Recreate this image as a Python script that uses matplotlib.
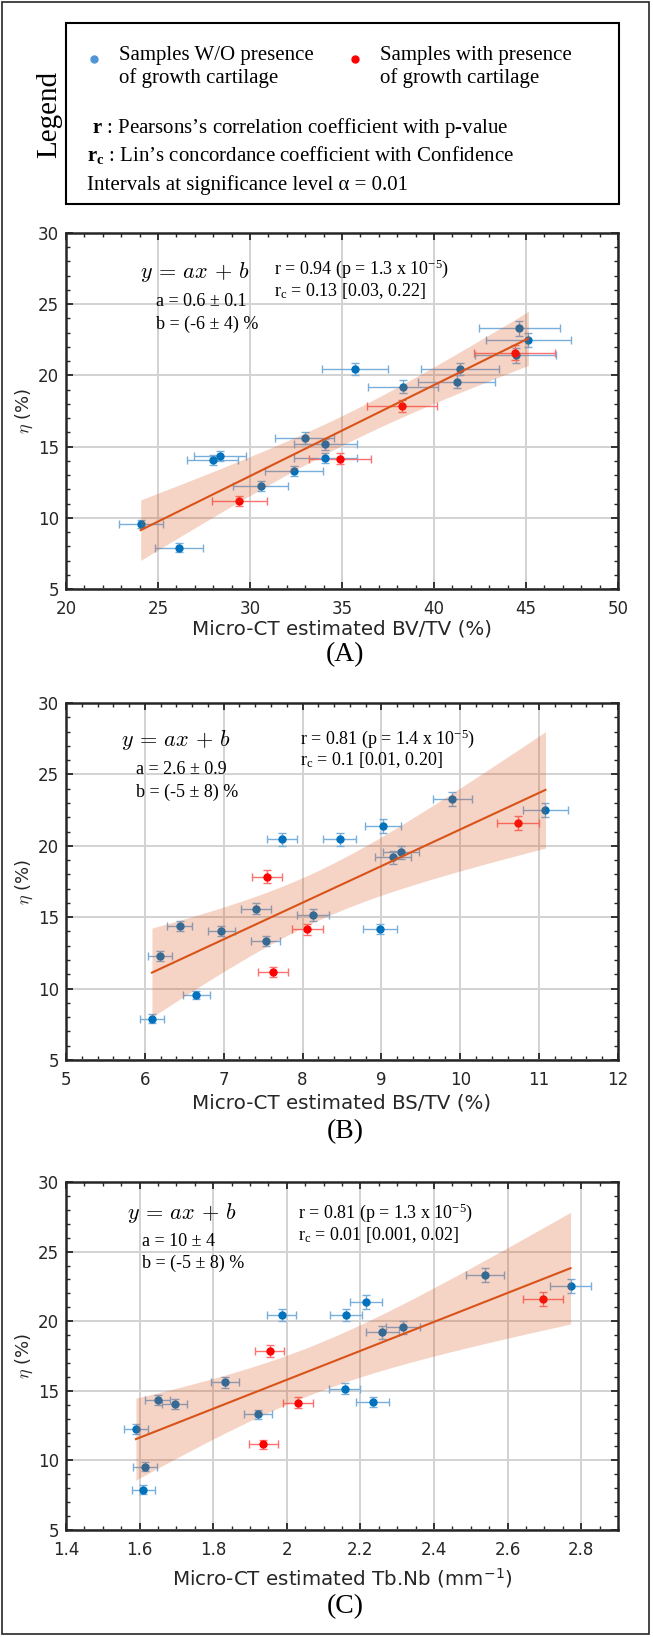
import matplotlib.pyplot as plt
import numpy as np
from matplotlib.patches import Rectangle
from matplotlib.ticker import MultipleLocator

# ---- data (same 20 samples in every panel) ----
# eta (%) per sample, first 16 without growth cartilage, last 4 with it
eta = [7.9, 9.55, 12.25, 13.3, 14.05, 14.35, 15.6, 15.15, 14.2, 20.45,
       19.2, 20.45, 19.55, 23.3, 22.5, 21.4, 11.15, 14.15, 17.85, 21.6]
eta_err = [0.3, 0.3, 0.35, 0.35, 0.35, 0.35, 0.4, 0.4, 0.35, 0.45,
           0.45, 0.45, 0.45, 0.5, 0.5, 0.5, 0.35, 0.4, 0.45, 0.5]
cartilage = [0] * 16 + [1] * 4

bvtv = [26.14, 24.06, 30.58, 32.39, 27.97, 28.37, 32.97, 34.09, 34.09, 35.71,
        38.34, 41.41, 41.23, 44.64, 45.13, 44.44, 29.42, 34.89, 38.24, 44.40]
bvtv_err = [1.3, 1.2, 1.5, 1.6, 1.4, 1.4, 1.6, 1.7, 1.7, 1.8,
            1.9, 2.1, 2.1, 2.2, 2.3, 2.2, 1.5, 1.7, 1.9, 2.2]

bstv = [6.09, 6.65, 6.19, 7.53, 6.97, 6.44, 7.41, 8.13, 8.98, 7.74,
        9.15, 8.47, 9.25, 9.90, 11.08, 9.02, 7.62, 8.06, 7.55, 10.73]
bstv_err = [0.15, 0.17, 0.15, 0.19, 0.17, 0.16, 0.19, 0.2, 0.22, 0.19,
            0.23, 0.21, 0.23, 0.25, 0.28, 0.23, 0.19, 0.2, 0.19, 0.27]

tbnb = [1.610, 1.614, 1.590, 1.922, 1.696, 1.649, 1.832, 2.157, 2.233, 1.986,
        2.259, 2.161, 2.315, 2.538, 2.771, 2.216, 1.936, 2.030, 1.953, 2.697]
tbnb_err = [0.032, 0.032, 0.032, 0.038, 0.034, 0.033, 0.037, 0.043, 0.045, 0.040,
            0.045, 0.043, 0.046, 0.051, 0.055, 0.044, 0.039, 0.041, 0.039, 0.054]

xlabels = ["Micro-CT estimated BV/TV (%)", "Micro-CT estimated BS/TV (%)",
           "Micro-CT estimated Tb.Nb (mm$^{-1}$)"]
letters = ["(A)", "(B)", "(C)"]
a_text = ["a = 0.6 ± 0.1", "a = 2.6 ± 0.9", "a = 10 ± 4"]
b_text = ["b = (-6 ± 4) %", "b = (-5 ± 8) %", "b = (-5 ± 8) %"]
r_text = ["r = 0.94 (p = 1.3 x 10$^{\\mathrm{-5}}$)",
          "r = 0.81 (p = 1.4 x 10$^{\\mathrm{-5}}$)",
          "r = 0.81 (p = 1.3 x 10$^{\\mathrm{-5}}$)"]
rc_text = ["r$_\\mathrm{c}$ = 0.13 [0.03, 0.22]",
           "r$_\\mathrm{c}$ = 0.1 [0.01, 0.20]",
           "r$_\\mathrm{c}$ = 0.01 [0.001, 0.02]"]

plt.rcParams['mathtext.fontset'] = 'custom'
plt.rcParams['mathtext.rm'] = 'Liberation Serif'
plt.rcParams['mathtext.it'] = 'Liberation Serif:italic'
plt.rcParams['mathtext.bf'] = 'Liberation Serif:bold'

W, H = 653, 1637
BLUE = '#0072bd'
ORANGE = '#d95319'
SERIF = 'Liberation Serif'
DARK = '#262626'


def fx(px):
    return px / W


def fy(py):
    return 1 - py / H


fig = plt.figure(figsize=(W / 100, H / 100), dpi=100)

# outer frame
fig.patches.append(Rectangle((fx(2), fy(1634)), fx(649) - fx(2), fy(2) - fy(1634),
                             transform=fig.transFigure, fill=False, lw=1.2, color=DARK))

# ---- legend block ----
fig.patches.append(Rectangle((fx(66), fy(204)), fx(619) - fx(66), fy(23) - fy(204),
                             transform=fig.transFigure, fill=False, lw=1.5, color='k'))
fig.text(fx(49), fy(114), "Legend", rotation=90, ha='center', va='center',
         family=SERIF, fontsize=21)
fig.lines.append(plt.Line2D([fx(94)], [fy(59)], marker='o', ms=5, color='#4f95d6',
                            transform=fig.transFigure))
fig.lines.append(plt.Line2D([fx(355)], [fy(59)], marker='o', ms=5, color='#ff0000',
                            transform=fig.transFigure))
fig.text(fx(119), fy(67), "Samples W/O presence\nof growth cartilage", ha='left', va='center',
         family=SERIF, fontsize=15, linespacing=1.15)
fig.text(fx(380), fy(67), "Samples with presence\nof growth cartilage", ha='left', va='center',
         family=SERIF, fontsize=15, linespacing=1.15)
fig.text(fx(92), fy(128), "$\\mathbf{r}$ : Pearsons’s correlation coefficient with p-value",
         ha='left', va='center', family=SERIF, fontsize=15)
fig.text(fx(87), fy(155), "$\\mathbf{r_c}$ : Lin’s concordance coefficient with Confidence",
         ha='left', va='center', family=SERIF, fontsize=15)
fig.text(fx(87), fy(185), "Intervals at significance level α = 0.01",
         ha='left', va='center', family=SERIF, fontsize=15)

# ---- panels ----
panel_x = [bvtv, bstv, tbnb]
panel_xerr = [bvtv_err, bstv_err, tbnb_err]
boxes = [(233, 589), (703, 1060), (1182, 1530)]
xlims = [(20, 50), (5, 12), (1.4, 2.9)]
xmajor = [5, 1, 0.2]
xminor = [1, 0.2, 0.05]
eq_pos = [(195, 272), (176, 740), (182, 1213)]
ab_left = [156, 136, 142]
ab_y = [(302, 324), (769, 792), (1242, 1263)]
r_pos = [(274, 269, 291), (300, 739, 760), (298, 1213, 1235)]
xlabel_y = [629, 1103, 1578]
letter_y = [655, 1132, 1607]

y = np.array(eta)
yerr = np.array(eta_err)
grp = np.array(cartilage)

for i in range(3):
    top, bot = boxes[i]
    ax = fig.add_axes([fx(66), fy(bot), fx(618) - fx(66), fy(top) - fy(bot)])
    x = np.array(panel_x[i])
    xe = np.array(panel_xerr[i])

    for g, col, ecol in [(0, BLUE, '#78aedb'), (1, '#ff0000', '#ff7070')]:
        m = grp == g
        ax.errorbar(x[m], y[m], xerr=xe[m], yerr=yerr[m], fmt='o', ms=5, color=col,
                    ecolor=ecol, elinewidth=1, capsize=3, capthick=1, zorder=3)

    # linear fit with 99% confidence band
    a, b = np.polyfit(x, y, 1)
    xs = np.linspace(x.min(), x.max(), 200)
    n = len(x)
    s = np.sqrt(np.sum((y - (a * x + b)) ** 2) / (n - 2))
    se = s * np.sqrt(1 / n + (xs - x.mean()) ** 2 / np.sum((x - x.mean()) ** 2))
    t = 2.878
    ax.fill_between(xs, a * xs + b - t * se, a * xs + b + t * se, color=ORANGE,
                    alpha=0.25, lw=0, zorder=4)
    ax.plot(xs, a * xs + b, color=ORANGE, lw=1.5, zorder=5)

    ax.set_xlim(*xlims[i])
    ax.set_ylim(5, 30)
    ax.xaxis.set_major_locator(MultipleLocator(xmajor[i]))
    ax.xaxis.set_minor_locator(MultipleLocator(xminor[i]))
    ax.yaxis.set_major_locator(MultipleLocator(5))
    ax.yaxis.set_minor_locator(MultipleLocator(1))
    if i == 2:
        ax.set_xticklabels([f"{v:g}" for v in ax.get_xticks()])
    ax.grid(True, which='major', color='#d2d2d2', lw=1.4, zorder=0)
    ax.set_axisbelow(True)
    ax.tick_params(which='both', direction='in', top=True, right=True, colors=DARK,
                   labelcolor=DARK, labelsize=12)
    ax.tick_params(which='major', length=5, width=1.3, pad=8)
    ax.tick_params(axis='y', which='major', pad=5)
    ax.tick_params(which='minor', length=3, width=1.0)
    for sp in ax.spines.values():
        sp.set_linewidth(1.8)
        sp.set_color(DARK)
    ax.set_ylabel("$\\eta$ (%)", fontsize=13, color=DARK, labelpad=2,
                  math_fontfamily='cm')

    fig.text(fx(342), fy(xlabel_y[i]), xlabels[i], ha='center', va='center',
             fontsize=14.3, color=DARK, math_fontfamily='dejavusans')
    fig.text(fx(345), fy(letter_y[i]), letters[i], ha='center', va='center',
             family=SERIF, fontsize=20)

    ex, ey = eq_pos[i]
    fig.text(fx(ex), fy(ey), "$y\\, =\\, ax\\, +\\, b$", ha='center', va='center',
             fontsize=16, math_fontfamily='cm')
    fig.text(fx(ab_left[i]), fy(ab_y[i][0]), a_text[i], ha='left', va='center',
             family=SERIF, fontsize=13)
    fig.text(fx(ab_left[i]), fy(ab_y[i][1]), b_text[i], ha='left', va='center',
             family=SERIF, fontsize=13)
    rx, ry1, ry2 = r_pos[i]
    fig.text(fx(rx), fy(ry1), r_text[i], ha='left', va='center', family=SERIF, fontsize=13)
    fig.text(fx(rx), fy(ry2), rc_text[i], ha='left', va='center', family=SERIF, fontsize=13)

fig.savefig("out.png", dpi=100)
